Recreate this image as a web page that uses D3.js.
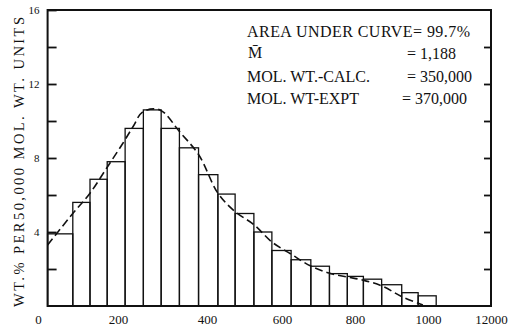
<!DOCTYPE html>
<html><head><meta charset="utf-8">
<script src="https://cdn.jsdelivr.net/npm/d3@7"></script>
<style>body{margin:0;background:#fff} svg{display:block}</style>
</head><body>
<svg id="c" width="513" height="332"></svg>
<script>
// ---- data (molecular weight in thousands) ----
const binEdges = [24, 87, 130, 173, 216, 257, 297, 338, 381, 429, 475, 525, 573, 625, 679, 730, 779, 823, 873, 928, 973, 1026];
const barValues = [3.9, 5.6, 6.85, 7.8, 9.6, 10.6, 9.6, 8.55, 7.1, 6.05, 5.0, 4.0, 3.0, 2.5, 2.15, 1.75, 1.6, 1.45, 1.15, 0.72, 0.55];
const curveX = [24, 87, 130, 173, 211, 234, 256, 294, 339, 382, 429, 475, 525, 573, 625, 679, 729, 778, 822, 874, 929, 986];
const curveY = [3.3, 5.0, 6.1, 7.5, 8.8, 9.7, 10.5, 10.6, 9.4, 8.15, 6.1, 5.1, 4.4, 3.46, 2.8, 2.16, 1.78, 1.57, 1.4, 1.08, 0.5, 0.05];
const xTickValues = [0, 200, 400, 600, 800, 1000, 1200];
const xTickLabels = ["0", "200", "400", "600", "800", "1000", "12000"];
const yTickValues = [2, 4, 6, 8, 10, 12, 14, 16];
const yTickLabels = ["", "4", "", "8", "", "12", "", "16"];
const yLabel = "WT.% PER50,000 MOL. WT. UNITS";
const noteLabels = ["AREA UNDER CURVE= 99.7%", "M\u0304", "MOL. WT.-CALC.", "MOL. WT-EXPT"];
const noteValues = ["", "= 1,188", "= 350,000", "= 370,000"];
const xMin = 24, xMax = 1200, yMax = 16;

// ---- drawing ----
const svg = d3.select("#c");
const serif = "'Liberation Serif','DejaVu Serif',serif";
// hand-lettered axis: piecewise linear scale through the printed labels
const x = d3.scaleLinear().domain(xTickValues).range([38, 118, 207, 282, 355, 428, 491]);
const y = d3.scaleLinear().domain([0, yMax]).range([306, 10]);

// bars
const bars = barValues.map((v, i) => ({x0: binEdges[i], x1: binEdges[i + 1], v}));
svg.append("g").selectAll("rect").data(bars).join("rect")
  .attr("x", d => x(d.x0)).attr("width", d => x(d.x1) - x(d.x0))
  .attr("y", d => y(d.v)).attr("height", d => y(0) - y(d.v))
  .attr("fill", "none").attr("stroke", "#111").attr("stroke-width", 1.3);

// fitted curve
const pts = curveX.map((cx, i) => [cx, curveY[i]]);
svg.append("path").datum(pts)
  .attr("d", d3.line().x(d => x(d[0])).y(d => y(d[1])).curve(d3.curveCatmullRom))
  .attr("fill", "none").attr("stroke", "#111").attr("stroke-width", 1.6)
  .attr("stroke-dasharray", "8,4");

// frame
svg.append("rect").attr("x", x(xMin)).attr("y", y(yMax))
  .attr("width", x(xMax) - x(xMin)).attr("height", y(0) - y(yMax))
  .attr("fill", "none").attr("stroke", "#111").attr("stroke-width", 2);

// left axis ticks (inward)
const gl = svg.append("g").attr("transform", `translate(${x(xMin)},0)`)
  .call(d3.axisLeft(y).tickValues(yTickValues).tickSize(-9).tickPadding(8)
    .tickFormat((d, i) => yTickLabels[i]));
gl.select(".domain").remove();
gl.selectAll("line").attr("stroke", "#111").attr("stroke-width", 1.8);
gl.selectAll("text").attr("font-family", serif).attr("font-size", 11).attr("fill", "#111");

// right axis ticks (inward)
const gr = svg.append("g").attr("transform", `translate(${x(xMax)},0)`)
  .call(d3.axisRight(y).tickValues(yTickValues.slice(0, -1)).tickSize(-7).tickFormat(""));
gr.select(".domain").remove();
gr.selectAll("line").attr("stroke", "#111").attr("stroke-width", 1.8);

// bottom labels
const gb = svg.append("g").attr("transform", `translate(0,${y(0)})`)
  .call(d3.axisBottom(x).tickValues(xTickValues).tickSize(0).tickPadding(9)
    .tickFormat((d, i) => xTickLabels[i]));
gb.select(".domain").remove();
gb.selectAll("text").attr("font-family", serif).attr("font-size", 13).attr("fill", "#111");

// y-axis title
svg.append("text")
  .attr("transform", "translate(24,162) rotate(-90)")
  .attr("text-anchor", "middle").attr("font-family", serif).attr("font-size", 14.5)
  .attr("fill", "#111").attr("textLength", 290).attr("lengthAdjust", "spacing")
  .text(yLabel);

// annotation block
const noteY = [37, 58, 82, 104];
const valX = [0, 407, 407, 402];
noteLabels.forEach((t, i) => {
  svg.append("text").attr("x", i === 1 ? 248 : 247).attr("y", noteY[i])
    .attr("font-family", serif).attr("font-size", 16).attr("fill", "#111")
    .attr("textLength", i === 0 ? 223 : null).attr("lengthAdjust", "spacing")
    .text(t);
  if (noteValues[i]) {
    svg.append("text").attr("x", valX[i]).attr("y", noteY[i] + (i === 1 ? 1 : 0))
      .attr("font-family", serif).attr("font-size", 16).attr("fill", "#111")
      .text(noteValues[i]);
  }
});
</script>
</body></html>
